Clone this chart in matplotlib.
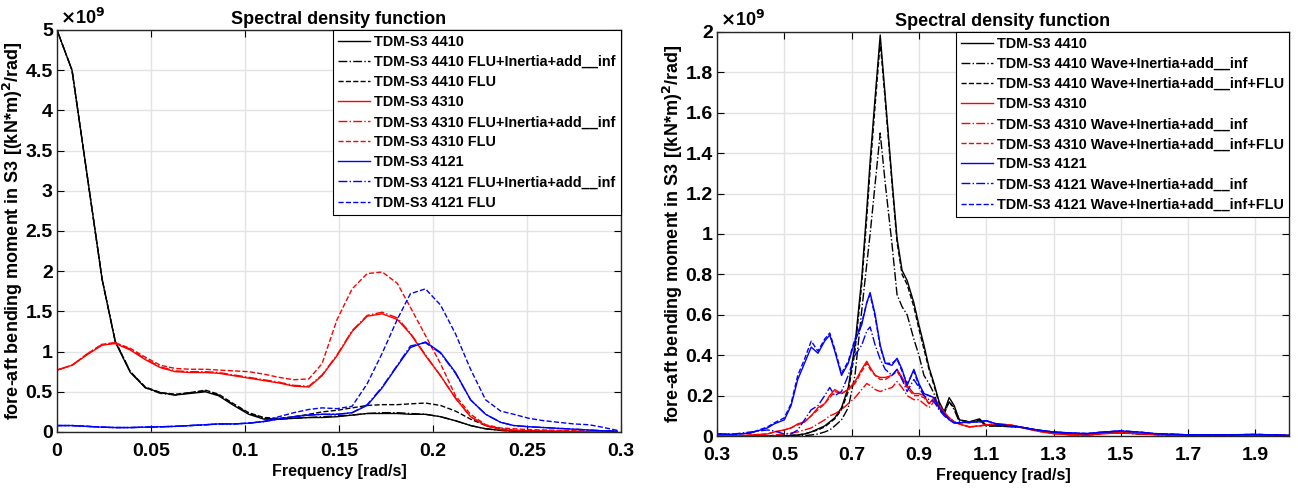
import matplotlib
matplotlib.use('Agg')
import matplotlib.pyplot as plt
from matplotlib.ticker import FuncFormatter

plt.rcParams['font.family'] = ['Liberation Sans', 'DejaVu Sans']
plt.rcParams['font.weight'] = 'bold'

# ---------------- left panel data (values in 1e9 (kN*m)^2/rad) ----------------
freq_left = [0.0, 0.008, 0.016, 0.024, 0.031, 0.039, 0.047, 0.055, 0.063, 0.071,
             0.079, 0.086, 0.094, 0.102, 0.110, 0.118, 0.126, 0.134, 0.141, 0.149,
             0.157, 0.165, 0.173, 0.181, 0.188, 0.196, 0.204, 0.212, 0.220, 0.228,
             0.236, 0.243, 0.251, 0.259, 0.267, 0.275, 0.283, 0.290, 0.298]

s4410 = [5.0, 4.5, 3.2, 1.9, 1.12, 0.74, 0.55, 0.49, 0.46, 0.48,
         0.50, 0.45, 0.33, 0.22, 0.16, 0.16, 0.17, 0.18, 0.18, 0.19,
         0.21, 0.23, 0.23, 0.23, 0.22, 0.22, 0.19, 0.14, 0.08, 0.04,
         0.02, 0.01, 0.005, 0.004, 0.003, 0.003, 0.002, 0.002, 0.002]
s4410_inf = [5.0, 4.5, 3.2, 1.9, 1.13, 0.75, 0.55, 0.48, 0.46, 0.49,
             0.51, 0.46, 0.34, 0.23, 0.17, 0.16, 0.17, 0.18, 0.19, 0.20,
             0.21, 0.23, 0.24, 0.24, 0.23, 0.22, 0.19, 0.14, 0.08, 0.04,
             0.02, 0.01, 0.005, 0.004, 0.003, 0.003, 0.002, 0.002, 0.002]
s4410_flu = [5.0, 4.5, 3.2, 1.9, 1.13, 0.75, 0.56, 0.49, 0.47, 0.49,
             0.52, 0.47, 0.35, 0.24, 0.18, 0.17, 0.19, 0.22, 0.25, 0.27,
             0.30, 0.33, 0.34, 0.34, 0.35, 0.36, 0.33, 0.26, 0.16, 0.08,
             0.04, 0.02, 0.01, 0.006, 0.004, 0.003, 0.003, 0.002, 0.002]

s4310 = [0.77, 0.83, 0.96, 1.08, 1.10, 1.02, 0.90, 0.80, 0.75, 0.74,
         0.74, 0.73, 0.70, 0.67, 0.64, 0.61, 0.57, 0.56, 0.70, 0.95,
         1.25, 1.44, 1.47, 1.40, 1.22, 0.95, 0.70, 0.42, 0.19, 0.08,
         0.03, 0.02, 0.015, 0.012, 0.01, 0.008, 0.006, 0.005, 0.004]
s4310_inf = [0.77, 0.83, 0.97, 1.09, 1.11, 1.03, 0.91, 0.81, 0.76, 0.75,
             0.75, 0.74, 0.71, 0.68, 0.65, 0.62, 0.58, 0.57, 0.71, 0.96,
             1.26, 1.45, 1.49, 1.42, 1.23, 0.96, 0.70, 0.42, 0.19, 0.08,
             0.03, 0.02, 0.015, 0.012, 0.01, 0.008, 0.006, 0.005, 0.004]
s4310_flu = [0.77, 0.83, 0.97, 1.09, 1.11, 1.04, 0.93, 0.83, 0.79, 0.78,
             0.78, 0.77, 0.76, 0.75, 0.72, 0.68, 0.65, 0.66, 0.85, 1.40,
             1.78, 1.97, 1.99, 1.85, 1.55, 1.20, 0.85, 0.45, 0.22, 0.09,
             0.05, 0.04, 0.03, 0.025, 0.02, 0.015, 0.012, 0.01, 0.01]

s4121 = [0.08, 0.08, 0.07, 0.06, 0.055, 0.055, 0.06, 0.065, 0.07, 0.08,
         0.09, 0.10, 0.10, 0.11, 0.13, 0.16, 0.19, 0.21, 0.22, 0.22,
         0.24, 0.33, 0.55, 0.82, 1.05, 1.12, 0.99, 0.74, 0.40, 0.22,
         0.12, 0.08, 0.065, 0.055, 0.045, 0.035, 0.025, 0.015, 0.01]
s4121_inf = [0.08, 0.08, 0.07, 0.06, 0.055, 0.055, 0.06, 0.065, 0.07, 0.08,
             0.09, 0.10, 0.10, 0.11, 0.13, 0.16, 0.19, 0.21, 0.22, 0.22,
             0.24, 0.34, 0.56, 0.83, 1.07, 1.11, 0.98, 0.73, 0.40, 0.22,
             0.12, 0.08, 0.065, 0.055, 0.045, 0.035, 0.025, 0.015, 0.01]
s4121_flu = [0.08, 0.08, 0.07, 0.06, 0.055, 0.055, 0.06, 0.065, 0.07, 0.08,
             0.09, 0.10, 0.10, 0.11, 0.13, 0.19, 0.24, 0.28, 0.30, 0.29,
             0.32, 0.60, 0.98, 1.40, 1.72, 1.78, 1.58, 1.22, 0.78, 0.40,
             0.26, 0.22, 0.17, 0.14, 0.12, 0.10, 0.09, 0.06, 0.02]

labels_left = ['TDM-S3 4410', 'TDM-S3 4410 FLU+Inertia+add__inf', 'TDM-S3 4410 FLU',
               'TDM-S3 4310', 'TDM-S3 4310 FLU+Inertia+add__inf', 'TDM-S3 4310 FLU',
               'TDM-S3 4121', 'TDM-S3 4121 FLU+Inertia+add__inf', 'TDM-S3 4121 FLU']

# ---------------- right panel data ----------------
freq_right = [0.30, 0.35, 0.40, 0.45, 0.47, 0.50, 0.52, 0.54, 0.56, 0.58,
              0.60, 0.62, 0.635, 0.65, 0.67, 0.69, 0.71, 0.73, 0.745, 0.755,
              0.77, 0.785, 0.80, 0.82, 0.835, 0.85, 0.865, 0.885, 0.90, 0.915,
              0.93, 0.945, 0.96, 0.975, 0.99, 1.005, 1.02, 1.05, 1.08, 1.10,
              1.13, 1.17, 1.20, 1.25, 1.30, 1.35, 1.40, 1.45, 1.50, 1.55,
              1.60, 1.70, 1.80, 1.90, 2.00]

w4410 = [0.0, 0.0, 0.0, 0.0, 0.0, 0.0, 0.003, 0.005, 0.01, 0.02,
         0.035, 0.05, 0.07, 0.09, 0.14, 0.24, 0.45, 0.78, 1.12, 1.36,
         1.68, 1.985, 1.68, 1.27, 0.98, 0.82, 0.77, 0.66, 0.55, 0.45,
         0.34, 0.26, 0.17, 0.12, 0.19, 0.15, 0.08, 0.07, 0.085, 0.054,
         0.05, 0.048, 0.045, 0.03, 0.015, 0.01, 0.008, 0.015, 0.015, 0.012,
         0.008, 0.004, 0.004, 0.005, 0.002]
w4410_inf = [0.0, 0.0, 0.0, 0.0, 0.0, 0.0, 0.0, 0.0, 0.002, 0.005,
             0.01, 0.02, 0.03, 0.05, 0.08, 0.14, 0.30, 0.62, 0.85, 1.00,
             1.25, 1.50, 1.25, 0.95, 0.70, 0.64, 0.60, 0.48, 0.40, 0.30,
             0.26, 0.21, 0.13, 0.11, 0.17, 0.13, 0.07, 0.065, 0.08, 0.05,
             0.05, 0.046, 0.043, 0.028, 0.014, 0.01, 0.008, 0.014, 0.014, 0.011,
             0.007, 0.004, 0.004, 0.005, 0.002]
w4410_flu = [0.0, 0.0, 0.0, 0.0, 0.0, 0.0, 0.003, 0.005, 0.01, 0.02,
             0.03, 0.045, 0.065, 0.085, 0.13, 0.22, 0.42, 0.75, 1.08, 1.32,
             1.64, 1.95, 1.66, 1.25, 0.96, 0.80, 0.75, 0.64, 0.53, 0.43,
             0.33, 0.25, 0.16, 0.11, 0.17, 0.14, 0.08, 0.07, 0.08, 0.05,
             0.05, 0.047, 0.044, 0.03, 0.015, 0.01, 0.008, 0.015, 0.015, 0.012,
             0.008, 0.004, 0.004, 0.005, 0.002]

w4310 = [0.0, 0.0, 0.005, 0.01, 0.02, 0.03, 0.04, 0.06, 0.07, 0.10,
         0.14, 0.16, 0.20, 0.23, 0.21, 0.23, 0.27, 0.33, 0.37, 0.34,
         0.30, 0.29, 0.29, 0.30, 0.33, 0.29, 0.25, 0.21, 0.21, 0.20,
         0.16, 0.19, 0.15, 0.12, 0.09, 0.07, 0.06, 0.045, 0.05, 0.055,
         0.06, 0.055, 0.045, 0.025, 0.012, 0.006, 0.004, 0.012, 0.015, 0.012,
         0.008, 0.004, 0.003, 0.006, 0.002]
w4310_inf = [0.0, 0.0, 0.0, 0.0, 0.005, 0.01, 0.015, 0.02, 0.03, 0.04,
             0.06, 0.08, 0.10, 0.11, 0.13, 0.16, 0.19, 0.23, 0.26, 0.25,
             0.23, 0.22, 0.23, 0.24, 0.27, 0.24, 0.20, 0.18, 0.18, 0.16,
             0.14, 0.17, 0.14, 0.11, 0.09, 0.07, 0.06, 0.045, 0.05, 0.055,
             0.06, 0.055, 0.045, 0.025, 0.012, 0.006, 0.004, 0.012, 0.015, 0.012,
             0.008, 0.004, 0.003, 0.006, 0.002]
w4310_flu = [0.0, 0.0, 0.005, 0.01, 0.02, 0.03, 0.04, 0.055, 0.07, 0.10,
             0.13, 0.16, 0.19, 0.22, 0.21, 0.23, 0.26, 0.32, 0.36, 0.33,
             0.30, 0.28, 0.28, 0.30, 0.32, 0.28, 0.24, 0.20, 0.20, 0.19,
             0.16, 0.18, 0.15, 0.11, 0.09, 0.07, 0.06, 0.045, 0.05, 0.055,
             0.06, 0.055, 0.045, 0.025, 0.012, 0.006, 0.004, 0.012, 0.015, 0.012,
             0.008, 0.004, 0.003, 0.006, 0.002]

w4121 = [0.01, 0.008, 0.015, 0.04, 0.06, 0.08, 0.15, 0.28, 0.36, 0.44,
         0.41, 0.47, 0.50, 0.42, 0.30, 0.36, 0.47, 0.55, 0.66, 0.71,
         0.60, 0.45, 0.36, 0.35, 0.385, 0.33, 0.25, 0.33, 0.26, 0.21,
         0.20, 0.19, 0.14, 0.11, 0.08, 0.065, 0.065, 0.07, 0.07, 0.076,
         0.06, 0.05, 0.045, 0.03, 0.02, 0.015, 0.012, 0.02, 0.025, 0.02,
         0.012, 0.006, 0.005, 0.008, 0.003]
w4121_inf = [0.01, 0.01, 0.02, 0.03, 0.025, 0.01, 0.01, 0.03, 0.08, 0.13,
             0.15, 0.20, 0.24, 0.20, 0.22, 0.30, 0.40, 0.45, 0.52, 0.54,
             0.45, 0.38, 0.33, 0.30, 0.33, 0.28, 0.22, 0.28, 0.24, 0.20,
             0.18, 0.17, 0.13, 0.10, 0.08, 0.065, 0.065, 0.07, 0.07, 0.075,
             0.06, 0.05, 0.045, 0.03, 0.02, 0.015, 0.012, 0.02, 0.025, 0.02,
             0.012, 0.006, 0.005, 0.008, 0.003]
w4121_flu = [0.01, 0.008, 0.015, 0.045, 0.065, 0.09, 0.16, 0.30, 0.38, 0.47,
             0.42, 0.48, 0.51, 0.43, 0.31, 0.37, 0.48, 0.56, 0.66, 0.70,
             0.59, 0.44, 0.36, 0.36, 0.38, 0.32, 0.26, 0.32, 0.25, 0.21,
             0.20, 0.19, 0.14, 0.11, 0.08, 0.065, 0.065, 0.07, 0.07, 0.075,
             0.06, 0.05, 0.045, 0.03, 0.02, 0.015, 0.012, 0.02, 0.025, 0.02,
             0.012, 0.006, 0.005, 0.008, 0.003]

labels_right = ['TDM-S3 4410', 'TDM-S3 4410 Wave+Inertia+add__inf', 'TDM-S3 4410 Wave+Inertia+add__inf+FLU',
                'TDM-S3 4310', 'TDM-S3 4310 Wave+Inertia+add__inf', 'TDM-S3 4310 Wave+Inertia+add__inf+FLU',
                'TDM-S3 4121', 'TDM-S3 4121 Wave+Inertia+add__inf', 'TDM-S3 4121 Wave+Inertia+add__inf+FLU']

colors = ['black', 'black', 'black', 'red', 'red', 'red', 'blue', 'blue', 'blue']
styles = ['-', '-.', '--', '-', '-.', '--', '-', '-.', '--']

fig = plt.figure(figsize=(12.98, 4.9), dpi=100)
ax1 = fig.add_axes([0.0439, 0.1184, 0.4345, 0.8204])
ax2 = fig.add_axes([0.5524, 0.1102, 0.4407, 0.8245])

left_series = [s4410, s4410_inf, s4410_flu, s4310, s4310_inf, s4310_flu, s4121, s4121_inf, s4121_flu]
right_series = [w4410, w4410_inf, w4410_flu, w4310, w4310_inf, w4310_flu, w4121, w4121_inf, w4121_flu]

for ys, lab, c, ls in zip(left_series, labels_left, colors, styles):
    ax1.plot(freq_left, ys, color=c, linestyle=ls, linewidth=1.0, label=lab)
for ys, lab, c, ls in zip(right_series, labels_right, colors, styles):
    ax2.plot(freq_right, ys, color=c, linestyle=ls, linewidth=1.0, label=lab)

fmt = FuncFormatter(lambda v, p: '%g' % round(v, 6))

ax1.set_xlim(0, 0.3)
ax1.set_ylim(0, 5)
ax1.set_xticks([0, 0.05, 0.1, 0.15, 0.2, 0.25, 0.3])
ax1.set_yticks([0, 0.5, 1, 1.5, 2, 2.5, 3, 3.5, 4, 4.5, 5])

ax2.set_xlim(0.3, 2.0)
ax2.set_ylim(0, 2)
ax2.set_xticks([0.3, 0.5, 0.7, 0.9, 1.1, 1.3, 1.5, 1.7, 1.9])
ax2.set_yticks([0, 0.2, 0.4, 0.6, 0.8, 1, 1.2, 1.4, 1.6, 1.8, 2])

for ax in (ax1, ax2):
    ax.xaxis.set_major_formatter(fmt)
    ax.yaxis.set_major_formatter(fmt)
    ax.grid(True, color='#e3e3e3', linewidth=1.0)
    ax.set_axisbelow(True)
    ax.tick_params(direction='in', top=True, right=True, length=5, width=0.8,
                   labelsize=14)
    ax.tick_params(axis='x', pad=8)
    ax.tick_params(axis='y', pad=3)
    for lbl in ax.get_xticklabels() + ax.get_yticklabels():
        lbl.set_fontweight('bold')
    for sp in ax.spines.values():
        sp.set_linewidth(1.0)
        sp.set_color('#262626')
    ax.set_title('Spectral density function', fontsize=13, fontweight='bold', pad=4)
    ax.set_xlabel('Frequency [rad/s]', fontsize=11.5, fontweight='bold', labelpad=3)
    ax.set_ylabel('fore-aft bending moment in S3 [(kN*m)$^\\mathbf{2}$/rad]',
                  fontsize=13, fontweight='bold')
    ax.yaxis.set_label_coords(-0.056, 0.5)
    ax.text(0.005, 1.005, r'$\times$10$^\mathbf{9}$', transform=ax.transAxes,
            fontsize=13, fontweight='bold', va='bottom', ha='left')
    leg = ax.legend(loc='upper right', borderaxespad=0, fancybox=False,
                    edgecolor='black', framealpha=1,
                    handlelength=2.2, handletextpad=0.3, labelspacing=0.42,
                    borderpad=0.35, prop={'weight': 'bold', 'size': 10.4})
    leg.get_frame().set_linewidth(0.8)

fig.savefig('out.png', dpi=100)
